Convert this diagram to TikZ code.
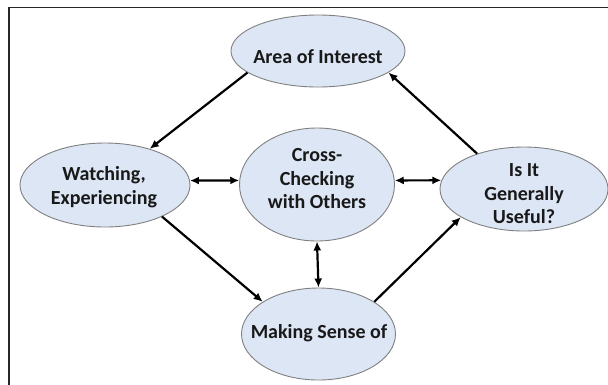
\documentclass[tikz,border=0pt]{standalone}
\usepackage{fontspec}
\setmainfont{Carlito}
\usetikzlibrary{shapes.geometric,arrows.meta}
\definecolor{bubblefill}{HTML}{DCE6F5}
\definecolor{bubbleline}{HTML}{808080}
\begin{document}
\begin{tikzpicture}[x=1pt,y=-1pt,
  bubble/.style={ellipse,draw=bubbleline,line width=0.9pt,fill=bubblefill,inner sep=0pt},
  lbl/.style={font=\fontsize{20}{23.5}\selectfont\bfseries,align=center,inner sep=0pt,text=black!90},
  conn/.style={line width=2.2pt,-{Latex[length=9pt,width=8pt]}},
  both/.style={line width=2.2pt,{Latex[length=9pt,width=8pt]}-{Latex[length=9pt,width=8pt]}},
  frameline/.style={draw=black!85,line width=1.6pt}]
\useasboundingbox (0,0) rectangle (608,384);
\coordinate (fb) at (9,386);
\coordinate (ftl) at (9,7.5);
\coordinate (fr) at (610,7.5);
\draw[frameline] (fb) -- (ftl) -- (fr);

\node[bubble,minimum width=174pt,minimum height=72pt] (area) at (318,51) {};
\node[bubble,minimum width=170pt,minimum height=84pt] (watch) at (105,185) {};
\node[bubble,minimum width=155pt,minimum height=113pt] (cross) at (317,184.5) {};
\node[bubble,minimum width=168pt,minimum height=84pt] (useful) at (524,189) {};
\node[bubble,minimum width=154pt,minimum height=92pt] (making) at (318.5,334) {};

\node[lbl] (areaT) at (318,57) {Area of Interest};
\node[lbl] (watchT) at (104,187) {Watching,\\Experiencing};
\node[lbl] (crossT) at (317,179) {Cross-\\Checking\\with Others};
\node[lbl] (usefulT) at (524,194) {Is It\\Generally\\Useful?};
\node[lbl] (makingT) at (319,333) {Making Sense of};

\draw[conn] (area.197) -- (watch.39);
\draw[conn] (useful.143) -- (area.343);
\draw[conn] (watch.331) -- (making.150);
\draw[conn] (making.30) -- (useful.204);
\draw[both] (watch.3) -- (cross.177);
\draw[both] (cross.3) -- (useful.174);
\draw[both] (cross.south) -- (making.north);
\end{tikzpicture}
\end{document}
